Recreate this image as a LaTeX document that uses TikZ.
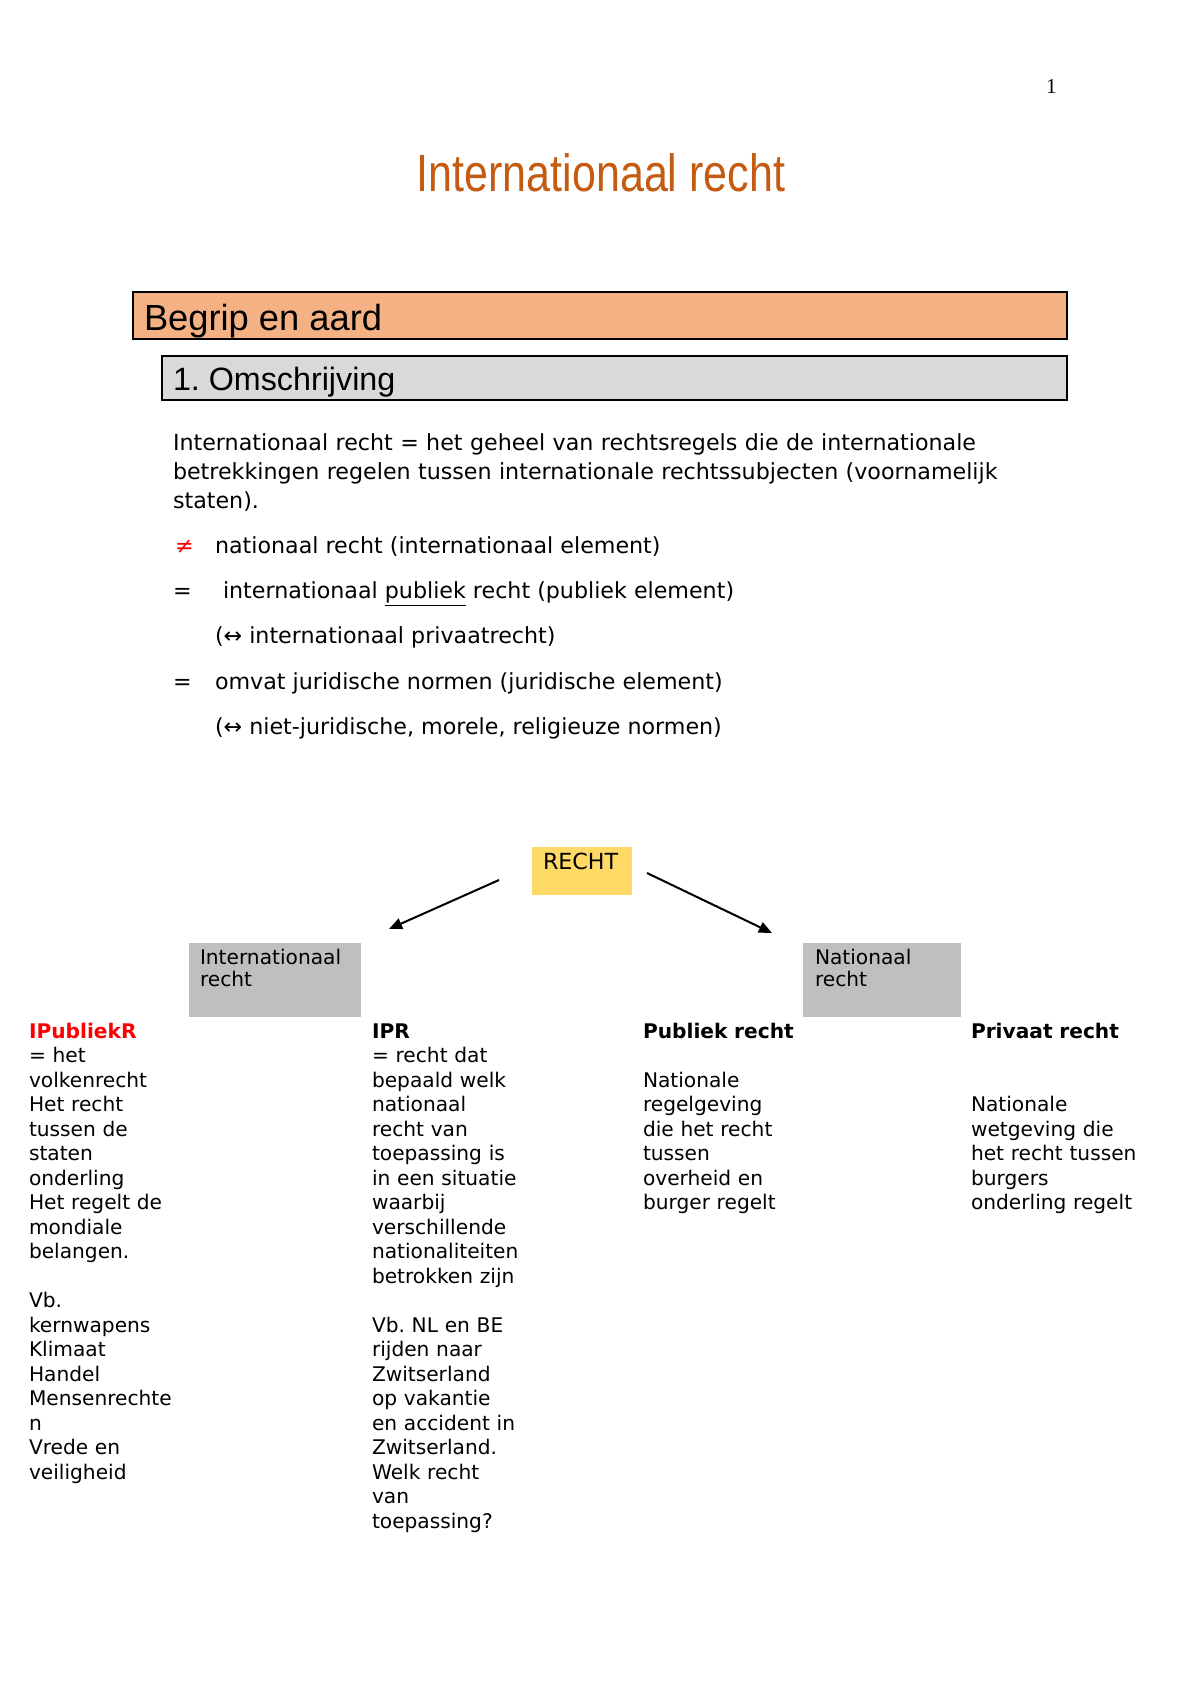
\documentclass[tikz,border=0pt]{standalone}
\usepackage{fontspec}
\setmainfont{DejaVu Sans}
\newfontfamily\arialf{Liberation Sans}
\newfontfamily\narrowf[FakeStretch=0.82]{Liberation Sans}
\newfontfamily\timesf{Liberation Serif}
\usetikzlibrary{arrows.meta}
\definecolor{titleorange}{HTML}{C55A11}
\definecolor{secfill}{HTML}{F4B183}
\definecolor{subfill}{HTML}{D9D9D9}
\definecolor{rechtfill}{HTML}{FFD966}
\definecolor{boxgray}{HTML}{BFBFBF}
\definecolor{myred}{HTML}{FF0000}
\frenchspacing
\begin{document}
\begin{tikzpicture}[x=0.4958pt,y=-0.4958pt,
  txt/.style={anchor=base west,inner sep=0pt,outer sep=0pt},
  body/.style={txt,font=\fontsize{11}{14.58}\selectfont},
  colt/.style={txt,align=left,text width=150pt,font=\fontsize{10}{12.15}\selectfont},
  boxt/.style={txt,align=left,text width=80pt,font=\fontsize{10}{11.3}\selectfont},
  barbox/.style={draw=black,line width=1.2pt},
  graybox/.style={fill=boxgray,draw=none},
  arr/.style={line width=1pt,-{Triangle[length=6.5pt,width=5.5pt]}}]
\useasboundingbox (0,0) rectangle (1200,1698);
\fill[white] (0,0) rectangle (1200,1698);

% page number and title
\node[txt,font=\timesf\fontsize{10.5}{12}\selectfont] (pagenum) at (1046,93) {1};
\node[anchor=base,inner sep=0pt,font=\narrowf\fontsize{26}{30}\selectfont,text=titleorange] (title) at (601,191) {Internationaal recht};

% section bars
\draw[barbox,fill=secfill] (133,292) rectangle (1067,339);
\node[txt,font=\arialf\fontsize{18}{21}\selectfont] (begrip) at (144,330) {Begrip en aard};
\draw[barbox,fill=subfill] (162,356) rectangle (1067,400);
\node[txt,font=\arialf\fontsize{16}{19}\selectfont] (omschr) at (173,390) {1. Omschrijving};

% body text
\node[body,align=left,text width=520pt] (def) at (173,450) {Internationaal recht = het geheel van rechtsregels die de internationale\\betrekkingen regelen tussen internationale rechtssubjecten (voornamelijk\\staten).};
\node[body,text=myred] (neq) at (175,553) {≠};
\node[body] (it1) at (215,553) {nationaal recht (internationaal element)};
\node[body] (eq1) at (173,598) {=};
\node[body] (it2) at (223,598) {internationaal \underline{publiek} recht (publiek element)};
\node[body] (it3) at (215,643) {(↔ internationaal privaatrecht)};
\node[body] (eq2) at (173,689) {=};
\node[body] (it4) at (215,689) {omvat juridische normen (juridische element)};
\node[body] (it5) at (215,734) {(↔ niet-juridische, morele, religieuze normen)};

% diagram
\fill[rechtfill] (532,847) rectangle (632,895);
\node[txt,font=\fontsize{11}{13}\selectfont] (recht) at (543,869) {RECHT};
\coordinate (lstart) at (499,880);
\coordinate (ltip) at (389,929);
\coordinate (rstart) at (647,873);
\coordinate (rtip) at (772,933);
\draw[arr] (lstart) -- (ltip);
\draw[arr] (rstart) -- (rtip);

\fill[graybox] (189,943) rectangle (361,1017);
\node[boxt] (intbox) at (200,964) {Internationaal\\recht};
\fill[graybox] (803,943) rectangle (961,1017);
\node[boxt] (natbox) at (815,964) {Nationaal\\recht};

\node[colt] (col1) at (29,1038) {\textbf{\textcolor{myred}{IPubliekR}}\\= het\\volkenrecht\\Het recht\\tussen de\\staten\\onderling\\Het regelt de\\mondiale\\belangen.\\[12.15pt]Vb.\\kernwapens\\Klimaat\\Handel\\Mensenrechte\\n\\Vrede en\\veiligheid};
\node[colt] (col2) at (372,1038) {\textbf{IPR}\\= recht dat\\bepaald welk\\nationaal\\recht van\\toepassing is\\in een situatie\\waarbij\\verschillende\\nationaliteiten\\betrokken zijn\\[12.15pt]Vb. NL en BE\\rijden naar\\Zwitserland\\op vakantie\\en accident in\\Zwitserland.\\Welk recht\\van\\toepassing?};
\node[colt] (col3) at (643,1038) {\textbf{Publiek recht}\\[12.15pt]Nationale\\regelgeving\\die het recht\\tussen\\overheid en\\burger regelt};
\node[colt] (col4) at (971,1038) {\textbf{Privaat recht}\\[24.3pt]Nationale\\wetgeving die\\het recht tussen\\burgers\\onderling regelt};
\end{tikzpicture}
\end{document}
